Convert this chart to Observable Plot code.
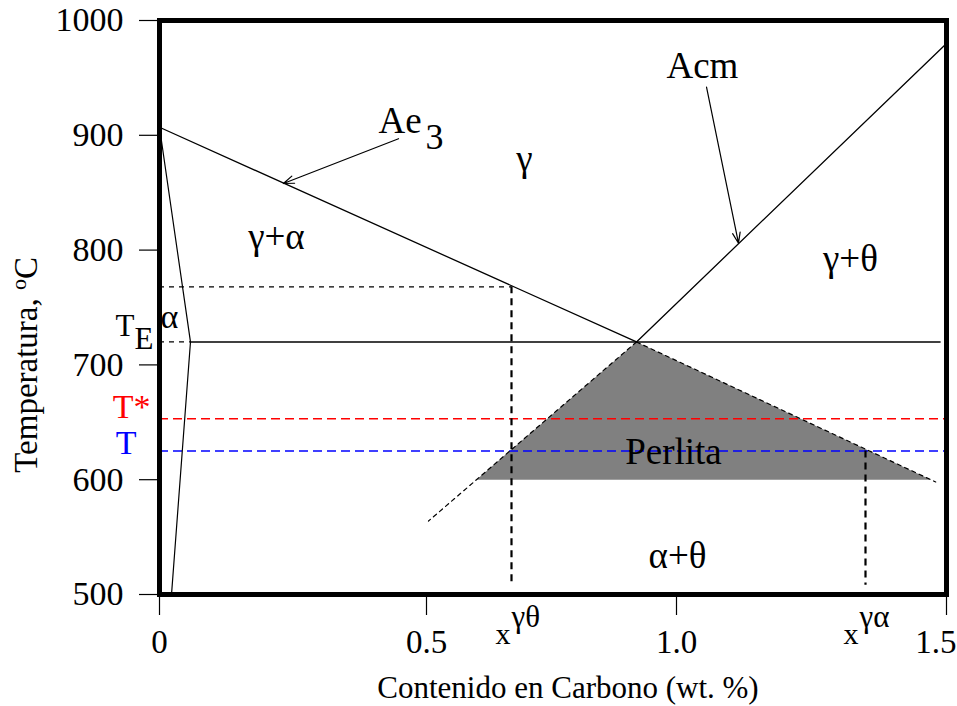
<!DOCTYPE html>
<html lang="es">
<head>
<meta charset="utf-8">
<style>
  html, body { margin: 0; padding: 0; background: #fff; }
</style>
<script src="https://cdn.jsdelivr.net/npm/d3@7"></script>
<script src="https://cdn.jsdelivr.net/npm/@observablehq/plot@0.6"></script>
</head>
<body>
<div id="chart"></div>
<script>
// Diagrama Fe–C (zona eutectoide): contenido en carbono (wt. %) vs temperatura (°C)

const xTicks = [0, 0.5, 1.0, 1.5];
const xTickText = ["0", "0.5", "1.0", "1.5"];
const yTicks = [500, 600, 700, 800, 900, 1000];

const TE = 720;            // temperatura eutectoide
const xEut = 0.92;         // composición eutectoide
const xKink = 0.058;       // solubilidad máxima del C en ferrita
const Tstar = 653;         // T*
const Tiso = 625;          // T
const xGammaTheta = 0.67;  // x^γθ
const xGammaAlpha = 1.35;  // x^γα
const Tcross = 768;        // Ae3 a x^γθ

const ae3 = [{c: 0, t: 907}, {c: xEut, t: TE}];
const ae3Ext = [{c: xEut, t: TE}, {c: 1.48, t: 598}];
const acm = [{c: xEut, t: TE}, {c: 1.5, t: 980}];
const acmExt = [{c: xEut, t: TE}, {c: 0.504, t: 564}];
const alphaBoundary = [{c: 0, t: 907}, {c: xKink, t: TE}, {c: 0.0225, t: 500}];
const pearlite = [{c: 0.6, t: 600}, {c: xEut, t: TE}, {c: 1.471, t: 600}];

const arrows = [
  {c1: 0.4476, t1: 897, c2: 0.232, t2: 858},   // Ae3
  {c1: 1.0556, t1: 942, c2: 1.1148, t2: 806}   // Acm
];

const regionLabels = [
  {label: "γ", c: 0.696, t: 869},
  {label: "γ+α", c: 0.219, t: 801},
  {label: "γ+θ", c: 1.322, t: 782},
  {label: "Perlita", c: 0.994, t: 614},
  {label: "α+θ", c: 1.002, t: 523},
  {label: "Acm", c: 1.048, t: 950}
];

const yTitle = "Temperatura, ºC";
const xTitle = "Contenido en Carbono (wt. %)";

const width = 957, height = 706;
const mL = 159, mR = 11, mT = 20, mB = 112;
const serif = "'Liberation Serif', 'Times New Roman', serif";

const xTickData = xTicks.map((v, i) => ({v, label: xTickText[i]}));

const chart = Plot.plot({
  width, height,
  marginLeft: mL, marginRight: mR, marginTop: mT, marginBottom: mB,
  style: {fontFamily: serif, color: "black", background: "white", overflow: "visible"},
  x: {type: "linear", domain: xTicks, range: [mL, 426, 676, width - mR]},
  y: {type: "linear", domain: [500, 1000]},
  marks: [
    // perlita
    Plot.line(pearlite, {x: "c", y: "t", fill: "#808080", stroke: "none"}),

    // isotermas T* y T
    Plot.ruleY([Tstar], {stroke: "#ff0000", strokeWidth: 1.5, strokeDasharray: "9,5"}),
    Plot.ruleY([Tiso], {stroke: "#0000ff", strokeWidth: 1.5, strokeDasharray: "9,5"}),

    // línea eutectoide
    Plot.ruleY([TE], {x1: xKink, x2: 1.49, stroke: "#404040", strokeWidth: 2}),
    Plot.ruleY([TE], {x1: 0, x2: xKink, stroke: "black", strokeWidth: 1.2, strokeDasharray: "5,5"}),

    // fronteras de fase
    Plot.line(alphaBoundary, {x: "c", y: "t", stroke: "black", strokeWidth: 1.2}),
    Plot.line(ae3, {x: "c", y: "t", stroke: "black", strokeWidth: 1.3}),
    Plot.line(acm, {x: "c", y: "t", stroke: "black", strokeWidth: 1.3}),
    Plot.line(ae3Ext, {x: "c", y: "t", stroke: "black", strokeWidth: 1.2, strokeDasharray: "4,4"}),
    Plot.line(acmExt, {x: "c", y: "t", stroke: "black", strokeWidth: 1.2, strokeDasharray: "4,4"}),

    // construcciones auxiliares
    Plot.ruleY([Tcross], {x1: 0, x2: xGammaTheta, stroke: "black", strokeWidth: 1.2, strokeDasharray: "5,5"}),
    Plot.ruleX([xGammaTheta], {y1: Tcross, y2: 508, stroke: "black", strokeWidth: 2.2, strokeDasharray: "7,5"}),
    Plot.ruleX([xGammaAlpha], {y1: Tiso, y2: 508, stroke: "black", strokeWidth: 2.2, strokeDasharray: "7,5"}),

    // flechas de Ae3 y Acm
    Plot.arrow(arrows, {x1: "c1", y1: "t1", x2: "c2", y2: "t2", stroke: "black", strokeWidth: 1.2, headLength: 14, headAngle: 40}),

    // marco y ejes
    Plot.frame({stroke: "black", strokeWidth: 5}),
    Plot.axisX({ticks: xTicks, tickFormat: () => "", tickSize: 21, label: null, strokeWidth: 1.2}),
    Plot.text(xTickData.slice(0, 3), {x: "v", text: "label", frameAnchor: "bottom", dy: 58, lineAnchor: "bottom", fontSize: 33}),
    Plot.text(xTickData.slice(3), {x: "v", text: "label", frameAnchor: "bottom", dx: 10, dy: 58, textAnchor: "end", lineAnchor: "bottom", fontSize: 33}),
    Plot.axisY({ticks: yTicks, tickFormat: d => String(d), tickSize: 20, tickPadding: 16, fontSize: 34, label: null, strokeWidth: 1.2}),

    // títulos de ejes
    Plot.text([xTitle], {text: d => d, frameAnchor: "bottom", dx: 15, dy: 103, lineAnchor: "bottom", fontSize: 31}),
    Plot.text([yTitle], {text: d => d, frameAnchor: "left", y: [700], dx: -133, rotate: -90, textAnchor: "middle", fontSize: 33}),

    // etiquetas de regiones
    Plot.text(regionLabels, {x: "c", y: "t", text: "label", lineAnchor: "bottom", fontSize: 37}),
    Plot.text(["Ae"], {text: d => d, x: [0.4101], y: [902], textAnchor: "start", lineAnchor: "bottom", fontSize: 37}),
    Plot.text(["3"], {text: d => d, x: [0.498], y: [888.5], textAnchor: "start", lineAnchor: "bottom", fontSize: 36}),
    Plot.text(["α"], {text: d => d, frameAnchor: "left", y: [TE], dx: 1, dy: -14, textAnchor: "start", lineAnchor: "bottom", fontSize: 34}),

    // temperaturas a la izquierda del eje
    Plot.text(["T"], {text: d => d, frameAnchor: "left", y: [TE], dx: -44, dy: -6, textAnchor: "start", lineAnchor: "bottom", fontSize: 31}),
    Plot.text(["E"], {text: d => d, frameAnchor: "left", y: [TE], dx: -25, dy: 7, textAnchor: "start", lineAnchor: "bottom", fontSize: 31}),
    Plot.text(["T*"], {text: d => d, frameAnchor: "left", y: [Tstar], dx: -9, dy: -1, textAnchor: "end", lineAnchor: "bottom", fontSize: 34, fill: "#ff0000"}),
    Plot.text(["T"], {text: d => d, frameAnchor: "left", y: [Tiso], dx: -23, dy: 3, textAnchor: "end", lineAnchor: "bottom", fontSize: 34, fill: "#0000ff"}),

    // composiciones x^γθ y x^γα bajo el eje
    Plot.text(["x"], {text: d => d, x: [xGammaTheta], frameAnchor: "bottom", dx: -1, dy: 49, textAnchor: "end", lineAnchor: "bottom", fontSize: 30}),
    Plot.text(["γθ"], {text: d => d, x: [xGammaTheta], frameAnchor: "bottom", dx: 0, dy: 32, textAnchor: "start", lineAnchor: "bottom", fontSize: 31}),
    Plot.text(["x"], {text: d => d, x: [xGammaAlpha], frameAnchor: "bottom", dx: -7, dy: 49, textAnchor: "end", lineAnchor: "bottom", fontSize: 30}),
    Plot.text(["γα"], {text: d => d, x: [xGammaAlpha], frameAnchor: "bottom", dx: -6, dy: 32, textAnchor: "start", lineAnchor: "bottom", fontSize: 31})
  ]
});

// superíndice "o" en la unidad de temperatura
d3.select(chart).selectAll("text")
  .filter(function() { return this.textContent === yTitle; })
  .each(function() {
    const el = d3.select(this);
    el.text(null);
    el.append("tspan").text("Temperatura, ");
    el.append("tspan").attr("dy", -11).attr("font-size", 22).text("o");
    el.append("tspan").attr("dy", 11).text("C");
  });

document.getElementById("chart").appendChild(chart);
</script>
</body>
</html>
